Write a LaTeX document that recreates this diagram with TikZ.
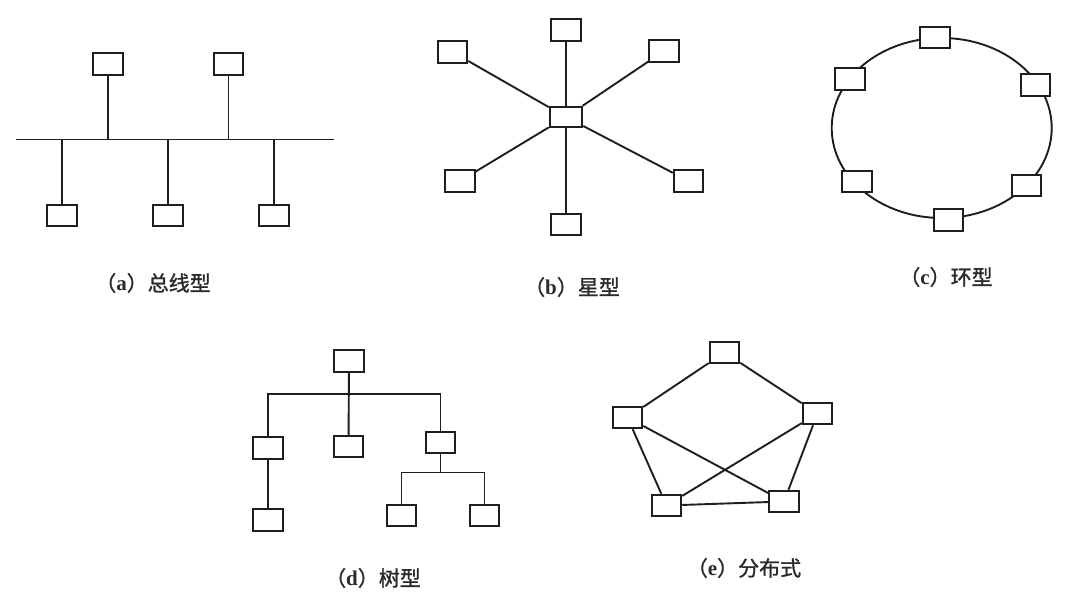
\documentclass[tikz,border=0pt]{standalone}
\usepackage{fontspec}
\setmainfont{Liberation Serif}
\newfontfamily\cjk[FakeBold=1.2]{Noto Sans CJK SC}
\definecolor{ink}{HTML}{1E1E1E}
\definecolor{txt}{HTML}{2A2A2A}
\begin{document}
\begin{tikzpicture}[x=1pt,y=-1pt,
  station/.style={draw=ink,fill=white,line width=2pt,minimum width=29.5pt,minimum height=21.5pt,inner sep=0pt},
  hub/.style={station,minimum width=32.5pt,minimum height=20.5pt},
  link/.style={draw=ink,line width=1.9pt},
  caption/.style={text=txt,font=\fontsize{21}{24}\selectfont,inner sep=0pt}]
\useasboundingbox[fill=white] (0,0) rectangle (1078,596);

% ---------- (a) bus ----------
\coordinate (busL) at (16,139.5);
\coordinate (busR) at (334,139.5);
\node[station] (a1) at (108,64) {};
\node[station] (a2) at (228.5,64) {};
\node[station] (a3) at (62,215.5) {};
\node[station] (a4) at (168,215.5) {};
\node[station] (a5) at (274,215.5) {};
\draw[link] (busL) -- (busR);
\foreach \n in {a1,a2} \draw[link] (\n.south) -- (\n.south |- busL);
\foreach \n in {a3,a4,a5} \draw[link] (\n.north) -- (\n.north |- busL);
\node[caption] (capa) at (153,283) {{\cjk （}\textbf{a}{\cjk ）总线型}};

% ---------- (b) star ----------
\node[hub] (bc) at (566,117) {};
\node[station] (b1) at (566,30) {};
\node[station] (b2) at (452.5,52) {};
\node[station] (b3) at (664,51) {};
\node[station] (b4) at (460,181) {};
\node[station] (b5) at (688.5,181) {};
\node[station] (b6) at (566,224.5) {};
\foreach \n in {b1,b2,b3,b4,b5,b6} \draw[link] (bc) -- (\n);
\node[caption] (capb) at (572,287) {{\cjk （}\textbf{b}{\cjk ）星型}};

% ---------- (c) ring ----------
\draw[link] (941.7,128) ellipse [x radius=110, y radius=90];
\node[station] (c1) at (935,37.5) {};
\node[station] (c2) at (1035.5,85) {};
\node[station] (c3) at (1026.5,185.5) {};
\node[station] (c4) at (948.5,220) {};
\node[station] (c5) at (857,181.5) {};
\node[station] (c6) at (850,79) {};
\node[caption] (capc) at (946,277) {{\cjk （}\textbf{c}{\cjk ）环型}};

% ---------- (d) tree ----------
\node[station] (d0) at (349,361) {};
\node[station] (d1) at (268,448) {};
\node[station] (d2) at (348.5,446.5) {};
\node[station] (d3) at (440.5,442.5) {};
\node[station] (d4) at (268,520) {};
\node[station] (d5) at (401.5,515.5) {};
\node[station] (d6) at (484.5,515.5) {};
\coordinate (dbus) at (349,394);
\coordinate (dsub) at (440.5,472.5);
\draw[link] (d0) -- (d2);
\draw[link] (d1.north) -- (d1.north |- dbus) -- (d3.north |- dbus) -- (d3.north);
\draw[link] (d1) -- (d4);
\draw[link] (d3.south) -- (dsub);
\draw[link] (d5.north) -- (d5.north |- dsub) -- (d6.north |- dsub) -- (d6.north);
\node[caption] (capd) at (373,578) {{\cjk （}\textbf{d}{\cjk ）树型}};

% ---------- (e) distributed ----------
\node[station] (e1) at (724.5,352.5) {};
\node[station] (e2) at (627.5,417.5) {};
\node[station] (e3) at (817.5,413.5) {};
\node[station] (e4) at (666.5,505.5) {};
\node[station] (e5) at (784,501.5) {};
\draw[link] (e1) -- (e2);
\draw[link] (e1) -- (e3);
\draw[link] (e2) -- (e4);
\draw[link] (e2) -- (e5);
\draw[link] (e3) -- (e4);
\draw[link] (e3) -- (e5);
\draw[link] (e4) -- (e5);
\node[caption] (cape) at (744,568) {{\cjk （}\textbf{e}{\cjk ）分布式}};
\end{tikzpicture}
\end{document}
